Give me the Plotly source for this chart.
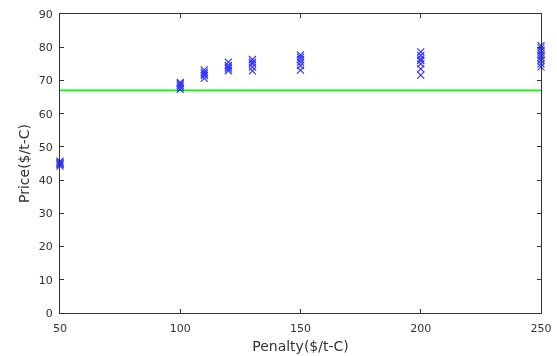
import plotly.graph_objects as go

penalties = [50, 100, 110, 120, 130, 150, 200, 250]
prices = {
    50: [44.2, 44.7, 45.0, 45.3, 45.7],
    100: [67.3, 68.0, 68.5, 69.0, 69.4],
    110: [70.6, 71.5, 72.0, 72.5, 73.2],
    120: [72.9, 73.5, 74.0, 74.5, 75.5],
    130: [72.9, 74.0, 75.0, 75.5, 76.3],
    150: [73.1, 74.5, 75.5, 76.3, 77.0, 77.7],
    200: [71.6, 73.5, 75.0, 76.0, 76.5, 77.5, 78.6],
    250: [74.1, 75.0, 76.0, 76.8, 77.5, 78.2, 79.0, 79.8, 80.5],
}
reference_price = 67
x_range = [50, 250]
y_ticks = [0, 10, 20, 30, 40, 50, 60, 70, 80, 90]
x_ticks = [50, 100, 150, 200, 250]

xs, ys = [], []
for p in penalties:
    for v in prices[p]:
        xs.append(p)
        ys.append(v)

fig = go.Figure()
fig.add_trace(go.Scatter(x=x_range, y=[reference_price, reference_price], mode="lines",
                         line=dict(color="#00ff00", width=1.6), showlegend=False))
fig.add_trace(go.Scatter(x=xs, y=ys, mode="markers",
                         marker=dict(symbol="x-thin", size=7, line=dict(color="#0000ff", width=1.2)),
                         opacity=0.8, showlegend=False, cliponaxis=False))

axis_common = dict(showgrid=False, zeroline=False, showline=True, linecolor="#333333", linewidth=1,
                   mirror="ticks", ticks="inside", ticklen=4, tickcolor="#333333", automargin=False,
                   tickfont=dict(family="DejaVu Sans", size=11, color="#333333"))
fig.update_xaxes(range=x_range, tickvals=x_ticks, ticklabelstandoff=5,
                 title=dict(text="Penalty($/t-C)", font=dict(family="DejaVu Sans", size=14, color="#333333"), standoff=6),
                 **axis_common)
fig.update_yaxes(range=[0, 90], tickvals=y_ticks, ticklabelstandoff=4,
                 title=dict(text="Price($/t-C)", font=dict(family="DejaVu Sans", size=14, color="#333333"), standoff=5),
                 **axis_common)
fig.update_layout(width=557, height=356, margin=dict(l=60, r=16, t=14, b=43),
                  plot_bgcolor="white", paper_bgcolor="white")
fig.write_html("out.html", config={"displayModeBar": False},
               post_script="document.body.style.margin='0px';document.body.style.overflow='hidden';")
